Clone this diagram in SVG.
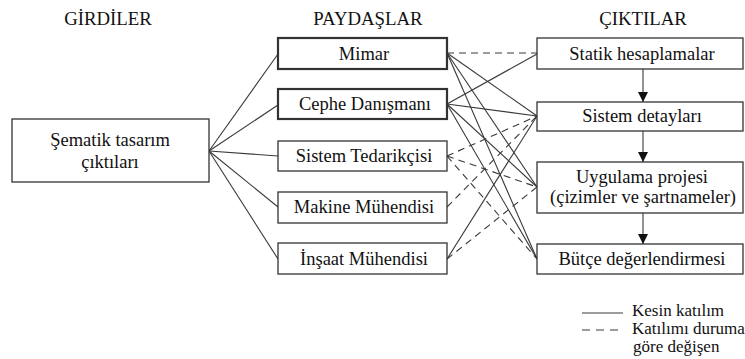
<svg xmlns="http://www.w3.org/2000/svg" width="745" height="359" viewBox="0 0 745 359">
<style>
text{font-family:'Liberation Serif','DejaVu Serif',serif;fill:#111}
.h{font-size:18.8px;text-anchor:middle}
.t{font-size:18.5px;text-anchor:middle}
.lg{font-size:17px}
.box{fill:#fff;stroke:#333;stroke-width:1.3}
.bold{stroke-width:2.2}
.s{stroke:#3a3a3a;stroke-width:1.1;fill:none}
.d{stroke:#3a3a3a;stroke-width:1.1;fill:none;stroke-dasharray:7 5}
</style>
<defs>
<marker id="ah" viewBox="0 0 10 10" refX="10" refY="5" markerWidth="10" markerHeight="10" markerUnits="userSpaceOnUse" orient="auto">
<path d="M0,0 L10,5 L0,10 Z" fill="#111"/>
</marker>
</defs>
<rect width="745" height="359" fill="#fff"/>
<g font-family="Liberation Serif, DejaVu Serif, serif">
<text class="h" x="108" y="25">GİRDİLER</text>
<text class="h" x="368" y="25">PAYDAŞLAR</text>
<text class="h" x="643" y="25">ÇIKTILAR</text>
</g>

<g id="connectors">
<line class="s" x1="209" y1="151" x2="278" y2="54"/>
<line class="s" x1="209" y1="151" x2="278" y2="105"/>
<line class="s" x1="209" y1="151" x2="278" y2="156"/>
<line class="s" x1="209" y1="151" x2="278" y2="207"/>
<line class="s" x1="209" y1="151" x2="278" y2="259"/>
<line class="d" x1="447" y1="53" x2="537" y2="53"/>
<line class="s" x1="447" y1="53" x2="537" y2="116"/>
<line class="s" x1="447" y1="53" x2="537" y2="187"/>
<line class="s" x1="447" y1="53" x2="537" y2="259"/>
<line class="s" x1="447" y1="104" x2="537" y2="54"/>
<line class="s" x1="447" y1="104" x2="537" y2="116"/>
<line class="s" x1="447" y1="104" x2="537" y2="187"/>
<line class="s" x1="447" y1="104" x2="537" y2="259"/>
<line class="d" x1="447" y1="156" x2="537" y2="116"/>
<line class="d" x1="447" y1="156" x2="537" y2="187"/>
<line class="d" x1="447" y1="156" x2="537" y2="259"/>
<line class="d" x1="447" y1="207" x2="537" y2="116"/>
<line class="s" x1="447" y1="259" x2="537" y2="116"/>
<line class="d" x1="447" y1="259" x2="537" y2="187"/>
<line class="s" x1="643" y1="69" x2="643" y2="102" marker-end="url(#ah)"/>
<line class="s" x1="643" y1="131" x2="643" y2="162" marker-end="url(#ah)"/>
<line class="s" x1="643" y1="213" x2="643" y2="244" marker-end="url(#ah)"/>
</g>

<g id="n-sematik" font-family="Liberation Serif, DejaVu Serif, serif">
<rect class="box" x="12" y="119" width="197" height="63"/>
<text class="t" x="110" y="146">Şematik tasarım</text>
<text class="t" x="110" y="168">çıktıları</text>
</g>
<g id="n-mimar" font-family="Liberation Serif, DejaVu Serif, serif">
<rect class="box bold" x="278" y="38" width="169" height="31"/>
<text class="t" x="364" y="60">Mimar</text>
</g>
<g id="n-cephe" font-family="Liberation Serif, DejaVu Serif, serif">
<rect class="box bold" x="278" y="89" width="169" height="30"/>
<text class="t" x="365" y="110">Cephe Danışmanı</text>
</g>
<g id="n-sistemted" font-family="Liberation Serif, DejaVu Serif, serif">
<rect class="box" x="278" y="141" width="169" height="30"/>
<text class="t" x="364" y="162">Sistem Tedarikçisi</text>
</g>
<g id="n-makine" font-family="Liberation Serif, DejaVu Serif, serif">
<rect class="box" x="278" y="192" width="169" height="31"/>
<text class="t" x="364" y="213">Makine Mühendisi</text>
</g>
<g id="n-insaat" font-family="Liberation Serif, DejaVu Serif, serif">
<rect class="box" x="278" y="243" width="169" height="31"/>
<text class="t" x="364" y="265">İnşaat Mühendisi</text>
</g>
<g id="n-statik" font-family="Liberation Serif, DejaVu Serif, serif">
<rect class="box" x="537" y="38" width="206" height="31"/>
<text class="t" x="642" y="60">Statik hesaplamalar</text>
</g>
<g id="n-sistemdet" font-family="Liberation Serif, DejaVu Serif, serif">
<rect class="box" x="537" y="102" width="206" height="29"/>
<text class="t" x="642" y="122">Sistem detayları</text>
</g>
<g id="n-uygulama" font-family="Liberation Serif, DejaVu Serif, serif">
<rect class="box" x="537" y="162" width="206" height="51"/>
<text class="t" x="642" y="183">Uygulama projesi</text>
<text class="t" x="643" y="203">(çizimler ve şartnameler)</text>
</g>
<g id="n-butce" font-family="Liberation Serif, DejaVu Serif, serif">
<rect class="box" x="537" y="244" width="206" height="30"/>
<text class="t" x="642" y="265">Bütçe değerlendirmesi</text>
</g>

<g id="legend" font-family="Liberation Serif, DejaVu Serif, serif">
<line class="s" x1="582" y1="313" x2="623" y2="313"/>
<line class="s" x1="582" y1="330" x2="623" y2="330" stroke-dasharray="8 6"/>
<text class="lg" x="632" y="316">Kesin katılım</text>
<text class="lg" x="632" y="334">Katılımı duruma</text>
<text class="lg" x="633" y="352">göre değişen</text>
</g>
</svg>
